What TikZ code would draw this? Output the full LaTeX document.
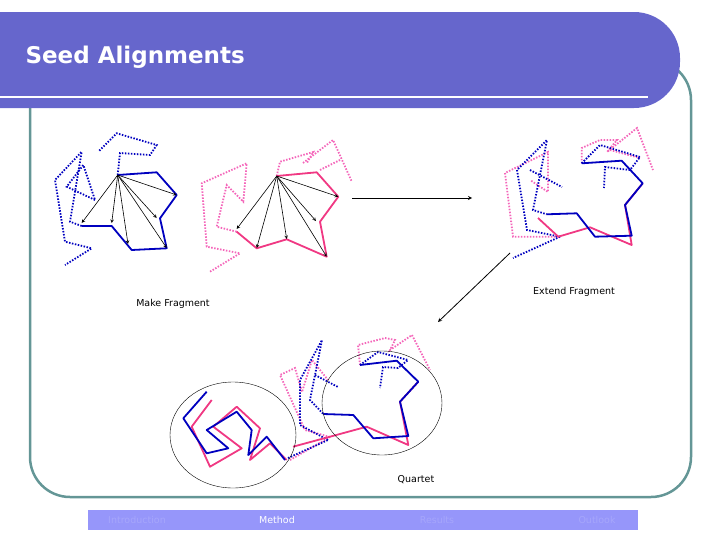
\documentclass[tikz,border=0pt]{standalone}
\usepackage{fontspec}
\setmainfont{DejaVu Sans}
\usetikzlibrary{shapes.geometric}
\begin{document}
\begin{tikzpicture}[x=1pt,y=-1pt,
  bs/.style={draw=blue!75!black,line width=1.8pt,line join=round},
  ps/.style={draw=magenta!70!red!80!white,line width=1.8pt,line join=round},
  bd/.style={draw=blue!75!black,line width=1.8pt,dash pattern=on 1.5pt off 1.5pt},
  pd/.style={draw=magenta!60!white,line width=1.8pt,dash pattern=on 1.5pt off 1.5pt},
  arr/.style={->,>=stealth,semithick},
  lbl/.style={font=\fontsize{9.5}{11}\selectfont,inner sep=0pt}]
\definecolor{hdr}{RGB}{102,102,204}
\definecolor{teal1}{RGB}{100,150,150}
\definecolor{foot}{RGB}{150,150,250}
\useasboundingbox (0,0) rectangle (728,546);
% frame
\draw[teal1,line width=2.5pt,rounded corners=40pt] (30,60) rectangle (691,497);
% header
\fill[hdr,rounded corners=46pt] (-60,12) rectangle (680,108);
\draw[white,line width=2pt] (0,97) -- (648,97);
\node[anchor=west,text=white,font=\bfseries\fontsize{23}{27}\selectfont] (title) at (22,57) {Seed Alignments};
% footer
\fill[foot] (88,510) rectangle (638,530);
\node[lbl,text=foot!85!white] (f1) at (137,520) {Introduction};
\node[lbl,text=white] (f2) at (277,520) {Method};
\node[lbl,text=foot!85!white] (f3) at (437,520) {Results};
\node[lbl,text=foot!85!white] (f4) at (597,520) {Outlook};
% fragment 1 blue
\draw[bd] (117.7,175) -- (120,153) -- (150,155) -- (156.7,145) -- (116.7,133.3) -- (98.3,151.7);
\draw[bd] (81.7,226) -- (70,221.7) -- (81.7,151.7) -- (55,180) -- (65,241.7) -- (91.7,248.3) -- (65,265);
\draw[bd] (95,200) -- (66.7,186.7) -- (83.3,165) -- (95,200);
\draw[bs] (117.7,175) -- (156.7,172.3) -- (176.7,195) -- (160,218.3) -- (166.7,248.3) -- (131.7,250) -- (111.7,226) -- (81.7,226);
\coordinate (a1) at (117.7,175);
\foreach \p in {(81.7,223),(111.7,223),(128,244),(156.7,218),(166.7,248),(176.7,195)}
  \draw[arr] (a1) -- \p;
% fragment 1 pink
\draw[pd] (276.7,176) -- (280,161.7) -- (313.3,152) -- (306.7,163.3);
\draw[pd] (303,163) -- (333,140) -- (352,182); \draw[pd] (320,170) -- (340,160);
\draw[pd] (236.7,231.7) -- (216.7,226.7) -- (226.7,185) -- (243.3,201.7) -- (246.7,163.3) -- (201.7,183.3) -- (206.7,246.7) -- (240,253.3) -- (210,271.7);
\draw[ps] (276.7,176) -- (316.7,172.3) -- (338.3,196.7) -- (320,221.7) -- (326.7,256.7) -- (286.7,239.3) -- (256.7,248.3) -- (236.7,231.7);
\coordinate (a2) at (276.7,176);
\foreach \p in {(236.7,229),(256.7,248),(286.7,239),(316,221),(326.7,256.7),(338.3,196.7)}
  \draw[arr] (a2) -- \p;
\node[lbl] (mf) at (173,304) {Make Fragment};
% arrows
\coordinate (r1) at (352,198); \coordinate (r2) at (472,198);
\draw[->,>=stealth,thick] (r1) -- (r2);
\coordinate (d1) at (510,253); \coordinate (d2) at (438,322);
\draw[->,>=stealth,thick] (d1) -- (d2);
% right fragment
\draw[pd] (558.3,236.7) -- (513,236.7) -- (505,173) -- (548,152) -- (548,192) -- (530,180);
\draw[pd] (581.7,163.3) -- (581.7,148) -- (600,140) -- (617,140) -- (607,152) -- (637,128) -- (653,170);
\draw[pd] (610,150) -- (640,158);
\draw[bd] (560,236.7) -- (527,230) -- (517,170) -- (547,140) -- (533,210) -- (546.7,214.3);
\draw[bd] (530,170) -- (562,187);
\draw[bd] (581.7,163.3) -- (600,145) -- (640,157) -- (630,170) -- (605,167) -- (604,188);
\draw[bd] (560,236.7) -- (513,258);
\draw[ps] (538,218) -- (558.3,236.7) -- (590,227.3) -- (631.7,245) -- (625,205) -- (642.7,183.3);
\draw[bs] (546.7,214.3) -- (576.7,213.3) -- (595,236.7) -- (631.7,235.7) -- (625,205) -- (642.7,183.3) -- (621.7,160.7) -- (581.7,163.3);
\node[lbl] (ef) at (574,292) {Extend Fragment};
% bottom
\draw[pd] (290,460) -- (330,437);
\draw[bd] (288,458) -- (328,440);
\draw[pd] (330,437) -- (305,430) -- (280,375) -- (295,368) -- (302,392) -- (312,360) -- (328,380);
\draw[bd] (328,440) -- (300,425) -- (300,380) -- (322,340) -- (310,400) -- (323.3,414);
\draw[bd] (315,375) -- (338,387);
\draw[pd] (360,365) -- (358,345) -- (385,338) -- (395,340) -- (390,350) -- (412,335) -- (430,370);
\draw[bd] (360,365) -- (378,352) -- (408,360) -- (398,368) -- (383,367) -- (380,388);
\draw[ps] (293,446.7) -- (330,436.7) -- (366.7,426.7) -- (408.3,445) -- (400,401.7) -- (418.3,381.7);
\draw[bs] (323.3,414) -- (353.3,415) -- (373.3,438.3) -- (408.3,436) -- (400,401.7) -- (418.3,381.7) -- (396.7,360.7) -- (360,365);
\draw[ps] (211.7,400) -- (191.7,426.7) -- (210,466.7) -- (241.7,448.3) -- (213.3,426.7) -- (236.7,406.7) -- (260,428.3) -- (250,460) -- (270,443.3) -- (286.7,460);
\draw[bs] (206.7,391.7) -- (183.3,418.3) -- (206.7,453.3) -- (228.3,448.3) -- (206.7,430) -- (236.7,411.7) -- (251.7,430) -- (248.3,455) -- (266.7,436.7) -- (285,460);
\node[draw,thin,ellipse,minimum width=126pt,minimum height=106pt] (e1) at (233,435) {};
\node[draw,thin,ellipse,minimum width=120pt,minimum height=104pt] (e2) at (382,403) {};
\node[lbl] (q) at (416,480) {Quartet};
\end{tikzpicture}
\end{document}
